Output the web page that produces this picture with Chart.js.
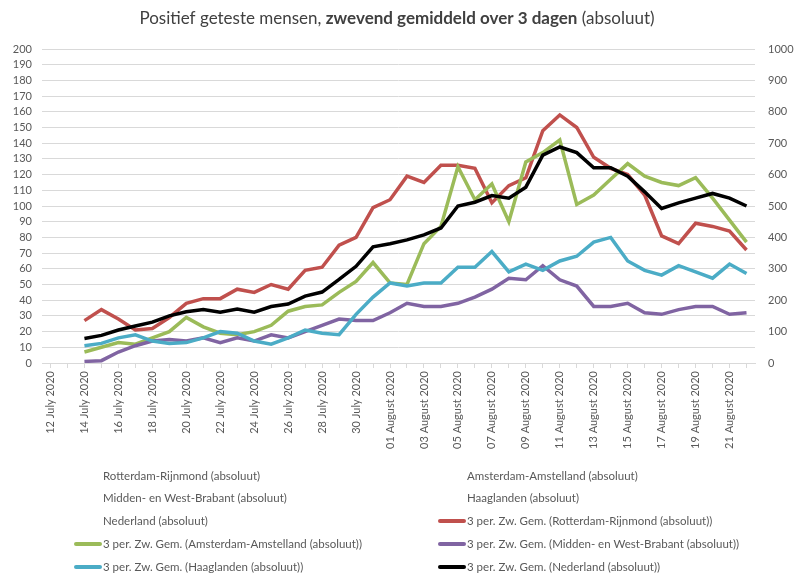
<!DOCTYPE html>
<html>
<head>
<meta charset="utf-8">
<script src="https://cdn.jsdelivr.net/npm/chart.js@4.4.1/dist/chart.umd.min.js"></script>
<style>
  body { margin: 0; background: #fff; font-family: Lato, "Open Sans", sans-serif; }
  #wrap { position: relative; width: 794px; height: 460px; }
  #legend { position: absolute; left: 0; top: 0; width: 794px; height: 575px; pointer-events: none; }
  .item { position: absolute; white-space: nowrap; font-size: 11.5px; color: #595959; line-height: 16px; }
  .swatch { position: absolute; height: 4px; width: 28px; top: 6px; border-radius: 2px; }
</style>
</head>
<body>
<div id="wrap"><canvas id="myChart" width="794" height="460"></canvas></div>
<div id="legend"></div>
<script>
// Datums (12 juli t/m 22 augustus 2020)
const dates = [
  '12 July 2020', '13 July 2020', '14 July 2020', '15 July 2020', '16 July 2020', '17 July 2020',
  '18 July 2020', '19 July 2020', '20 July 2020', '21 July 2020', '22 July 2020', '23 July 2020',
  '24 July 2020', '25 July 2020', '26 July 2020', '27 July 2020', '28 July 2020', '29 July 2020',
  '30 July 2020', '31 July 2020',
  '01 August 2020', '02 August 2020', '03 August 2020', '04 August 2020', '05 August 2020',
  '06 August 2020', '07 August 2020', '08 August 2020', '09 August 2020', '10 August 2020',
  '11 August 2020', '12 August 2020', '13 August 2020', '14 August 2020', '15 August 2020',
  '16 August 2020', '17 August 2020', '18 August 2020', '19 August 2020', '20 August 2020',
  '21 August 2020', '22 August 2020'
];

// 3 per. zwevend gemiddelde, linker as
const rotterdam = [null, null,
  27, 34, 28, 21, 22, 29, 38, 41, 41, 47, 45, 50, 47, 59, 61, 75, 80, 99,
  104, 119, 115, 126, 126, 124, 102, 113, 118, 148, 158, 150, 131, 124, 120, 107, 81, 76, 89, 87, 84, 72];
const amsterdam = [null, null,
  7, 10, 13, 12, 16, 20, 29, 23, 19, 18, 20, 24, 33, 36, 37, 45, 52, 64,
  51, 50, 76, 87, 125, 104, 114, 90, 128, 134, 142, 101, 107, 117, 127, 119, 115, 113, 118, 105, 91, 77];
const brabant = [null, null,
  1, 1.5, 7, 11, 14, 15, 14, 16, 13, 16, 14, 18, 16, 20, 24, 28, 27, 27,
  32, 38, 36, 36, 38, 42, 47, 54, 53, 62, 53, 49, 36, 36, 38, 32, 31, 34, 36, 36, 31, 32];
const haaglanden = [null, null,
  11, 12.5, 16, 18, 14, 12.5, 13, 16, 20, 19, 14, 12, 16, 21, 19, 18, 31, 42,
  51, 49, 51, 51, 61, 61, 71, 58, 63, 59, 65, 68, 77, 80, 65, 59, 56, 62, 58, 54, 63, 57];
// Nederland, rechter as
const nederland = [null, null,
  78, 88, 105, 118, 130, 150, 163, 170, 162, 172, 162, 180, 188, 213, 226, 266, 308, 370,
  380, 392, 408, 430, 500, 512, 533, 525, 560, 662, 688, 670, 622, 622, 595, 545, 492, 510, 525, 540, 525, 500];

const leftTicks = { min: 0, max: 200, step: 10 };
const rightTicks = { min: 0, max: 1000, step: 100 };

const legendItems = [
  { text: 'Rotterdam-Rijnmond (absoluut)', color: null },
  { text: 'Amsterdam-Amstelland (absoluut)', color: null },
  { text: 'Midden- en West-Brabant (absoluut)', color: null },
  { text: 'Haaglanden (absoluut)', color: null },
  { text: 'Nederland (absoluut)', color: null },
  { text: '3 per. Zw. Gem. (Rotterdam-Rijnmond (absoluut))', color: '#c0504d' },
  { text: '3 per. Zw. Gem. (Amsterdam-Amstelland (absoluut))', color: '#9bbb59' },
  { text: '3 per. Zw. Gem. (Midden- en West-Brabant (absoluut))', color: '#8064a2' },
  { text: '3 per. Zw. Gem. (Haaglanden (absoluut))', color: '#4bacc6' },
  { text: '3 per. Zw. Gem. (Nederland (absoluut))', color: '#000000' }
];

// Titel met vet middenstuk
const titlePlugin = {
  id: 'mixedTitle',
  afterDraw(chart) {
    const { ctx } = chart;
    const parts = [
      { t: 'Positief geteste mensen, ', f: '17px Lato, sans-serif' },
      { t: 'zwevend gemiddeld over 3 dagen', f: 'bold 17px Lato, sans-serif' },
      { t: ' (absoluut)', f: '17px Lato, sans-serif' }
    ];
    ctx.save();
    let total = 0;
    parts.forEach(p => { ctx.font = p.f; p.w = ctx.measureText(p.t).width; total += p.w; });
    let x = 397 - total / 2;
    ctx.fillStyle = '#404040';
    ctx.textBaseline = 'middle';
    parts.forEach(p => { ctx.font = p.f; ctx.fillText(p.t, x, 19); x += p.w; });
    ctx.restore();
  }
};

const line = (label, data, color, axis, order) => ({
  label, data, borderColor: color, backgroundColor: color, yAxisID: axis, order,
  borderWidth: 3.5, pointRadius: 0, tension: 0, spanGaps: false
});

const plain = v => String(v);

const ctx = document.getElementById('myChart').getContext('2d');
new Chart(ctx, {
  type: 'line',
  data: {
    labels: dates,
    datasets: [
      line('3 per. Zw. Gem. (Rotterdam-Rijnmond (absoluut))', rotterdam, '#c0504d', 'y', 5),
      line('3 per. Zw. Gem. (Amsterdam-Amstelland (absoluut))', amsterdam, '#9bbb59', 'y', 4),
      line('3 per. Zw. Gem. (Midden- en West-Brabant (absoluut))', brabant, '#8064a2', 'y', 3),
      line('3 per. Zw. Gem. (Haaglanden (absoluut))', haaglanden, '#4bacc6', 'y', 2),
      line('3 per. Zw. Gem. (Nederland (absoluut))', nederland, '#000000', 'y1', 1)
    ]
  },
  options: {
    responsive: false,
    animation: false,
    layout: { padding: { top: 49, left: 0, right: 0, bottom: 0 } },
    plugins: { legend: { display: false }, tooltip: { enabled: false }, title: { display: false } },
    scales: {
      x: {
        offset: true,
        grid: { display: true, drawOnChartArea: false, color: '#d9d9d9', tickLength: 5 },
        border: { color: '#d9d9d9' },
        ticks: {
          autoSkip: false, minRotation: 90, maxRotation: 90, color: '#595959',
          font: { family: 'Lato', size: 11 },
          callback(v, i) { return i % 2 === 0 ? this.getLabelForValue(v) : ''; }
        },
        afterFit(s) { s.height = 97; }
      },
      y: {
        position: 'left', min: leftTicks.min, max: leftTicks.max,
        grid: { color: '#d9d9d9', drawTicks: false },
        border: { display: false },
        ticks: { stepSize: leftTicks.step, autoSkip: false, callback: plain, color: '#595959', font: { family: 'Lato', size: 11 }, padding: 10 },
        afterFit(s) { s.width = 42; }
      },
      y1: {
        position: 'right', min: rightTicks.min, max: rightTicks.max,
        grid: { drawOnChartArea: false, drawTicks: false },
        border: { display: false },
        ticks: { stepSize: rightTicks.step, autoSkip: false, callback: plain, color: '#595959', font: { family: 'Lato', size: 11 }, padding: 13 },
        afterFit(s) { s.width = 39; }
      }
    }
  },
  plugins: [titlePlugin]
});

// Legenda in twee kolommen
const legendEl = document.getElementById('legend');
const rowsY = [468, 490, 513, 536, 559];
const colsX = [103, 467];
legendItems.forEach((it, i) => {
  const row = Math.floor(i / 2), col = i % 2;
  const div = document.createElement('div');
  div.className = 'item';
  div.style.left = colsX[col] + 'px';
  div.style.top = rowsY[row] + 'px';
  div.textContent = it.text;
  if (it.color) {
    const sw = document.createElement('span');
    sw.className = 'swatch';
    sw.style.background = it.color;
    sw.style.left = '-29px';
    div.appendChild(sw);
  }
  legendEl.appendChild(div);
});
</script>
</body>
</html>
